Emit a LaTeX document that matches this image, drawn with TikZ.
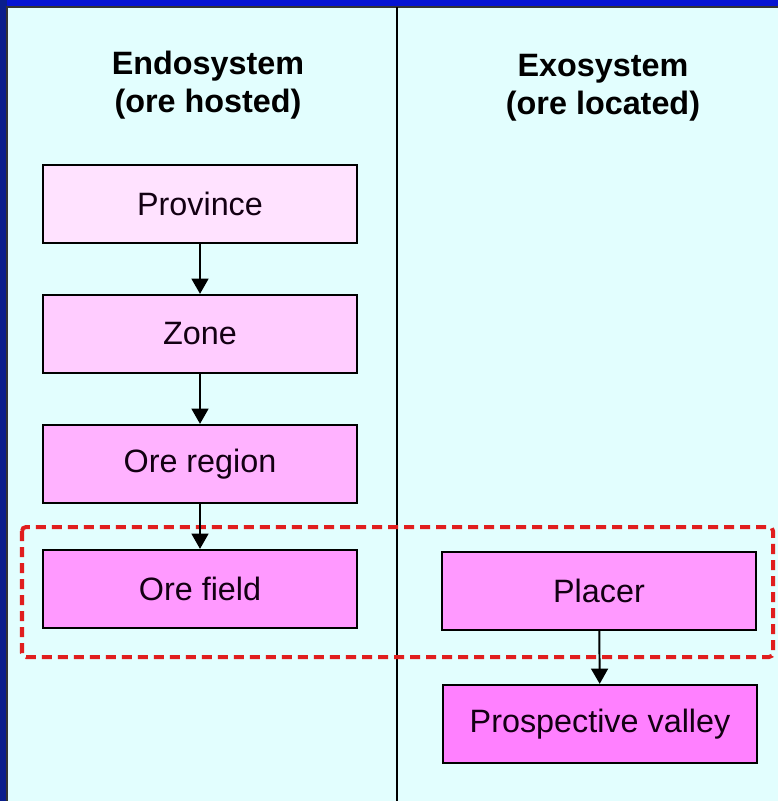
\documentclass[tikz,border=0pt]{standalone}
\usepackage{fontspec}
\setmainfont{Liberation Sans}
\usepackage{xcolor}
\usepackage{tikz}
\usetikzlibrary{arrows.meta,positioning}
\definecolor{FrameBlue}{HTML}{0A1E8C}
\definecolor{FrameTop}{HTML}{0614D2}
\definecolor{PanelCyan}{HTML}{E2FEFE}
\definecolor{PinkA}{HTML}{FFE2FF}
\definecolor{PinkB}{HTML}{FFCCFF}
\definecolor{PinkC}{HTML}{FFB2FF}
\definecolor{PinkD}{HTML}{FF99FF}
\definecolor{PinkE}{HTML}{FF80FF}
\definecolor{LinkRed}{HTML}{E01E1E}

\begin{document}
\begin{tikzpicture}[
  x=0.025cm, y=-0.025cm,
  font=\fontsize{23}{27}\selectfont,
  level/.style={
    draw=black,
    line width=1.6pt,
    fill=#1,
    minimum width=7.85cm,
    minimum height=1.95cm,
    inner sep=0pt,
    text=black!85!violet
  },
  head/.style={font=\fontsize{23}{27}\selectfont\bfseries, align=center},
  arrow/.style={-{Triangle[length=3.8mm,width=4.2mm]},line width=1.4pt,draw=black},
  link/.style={draw=LinkRed,line width=1mm,dash pattern=on 2.5mm off 1.5mm,rounded corners=1mm}
]
  \useasboundingbox (0,0) rectangle (778,801);
  \fill[FrameBlue] (0,0) rectangle (778,801);
  \fill[FrameTop] (7,0) rectangle (778,6);
  \fill[PanelCyan] (7,7) rectangle (778,801);
  \draw[black!80,line width=0.8pt] (7,801) -- (7,7) -- (778,7);

  \coordinate (divtop) at (397,7);
  \coordinate (divbot) at (397,801);
  \draw[line width=1.4pt] (divtop) -- (divbot);

  \node[head] (endo) at (208,85) {Endosystem\\(ore hosted)};
  \node[head] (exo) at (603,88) {Exosystem\\(ore located)};

  \node[level=PinkA] (province) at (200,204) {Province};
  \node[level=PinkB] (zone) at (200,334) {Zone};
  \node[level=PinkC] (region) at (200,464) {Ore region};
  \node[level=PinkD] (field) at (200,589) {Ore field};

  \node[level=PinkD] (placer) at (599,591) {Placer};
  \node[level=PinkE] (valley) at (600,724) {Prospective valley};

  \draw[link] (22,527) rectangle (773,657);

  \draw[arrow] (province) -- (zone);
  \draw[arrow] (zone) -- (region);
  \draw[arrow] (region) -- (field);
  \draw[arrow] (placer) -- (valley);
\end{tikzpicture}
\end{document}
